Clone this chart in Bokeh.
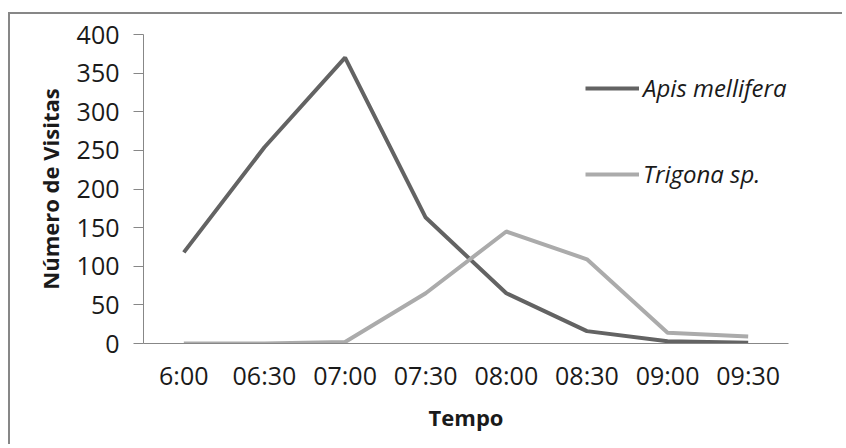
from bokeh.plotting import figure
from bokeh.models import FactorRange, Range1d, Legend, LegendItem, FixedTicker
from bokeh.embed import file_html
from bokeh.resources import INLINE

times = ["6:00", "06:30", "07:00", "07:30", "08:00", "08:30", "09:00", "09:30"]
apis = [118, 254, 370, 163, 65, 16, 3, 1]
trigona = [0, 0, 2, 65, 145, 109, 14, 9]

FONT = "Open Sans"
GRAY = "#878787"

p = figure(
    x_range=FactorRange(*times, range_padding=0),
    y_range=Range1d(0, 400),
    width=834, height=432,
    output_backend="svg", toolbar_location=None,
    min_border_left=133, min_border_right=56, min_border_top=20, min_border_bottom=103,
)
p.styles = {
    "margin-left": "8px", "margin-top": "12px",
    "border-left": f"2px solid {GRAY}", "border-top": f"2px solid {GRAY}",
}
p.outline_line_color = None
p.xgrid.visible = False
p.ygrid.visible = False

r1 = p.line(times, apis, line_color="#636363", line_width=4)
r2 = p.line(times, trigona, line_color="#ababab", line_width=4)

# y axis
p.yaxis.ticker = FixedTicker(ticks=list(range(0, 401, 50)))
p.yaxis.axis_line_color = GRAY
p.yaxis.major_tick_line_color = GRAY
p.yaxis.major_tick_out = 10
p.yaxis.major_tick_in = 0
p.yaxis.minor_tick_line_color = None
p.yaxis.major_label_standoff = 14
p.yaxis.major_label_text_font = FONT
p.yaxis.major_label_text_font_size = "25px"
p.yaxis.major_label_text_color = "#1a1a1a"
p.yaxis.axis_label = "Número de Visitas"
p.yaxis.axis_label_text_font = FONT
p.yaxis.axis_label_text_font_style = "bold"
p.yaxis.axis_label_text_font_size = "22px"
p.yaxis.axis_label_text_color = "#1a1a1a"
p.yaxis.axis_label_standoff = 9

# x axis
p.xaxis.axis_line_color = GRAY
p.xaxis.major_tick_line_color = None
p.xaxis.minor_tick_line_color = None
p.xaxis.major_label_standoff = 8
p.xaxis.major_label_text_font = FONT
p.xaxis.major_label_text_font_size = "25px"
p.xaxis.major_label_text_color = "#1a1a1a"
p.xaxis.axis_label = "Tempo"
p.xaxis.axis_label_text_font = FONT
p.xaxis.axis_label_text_font_style = "bold"
p.xaxis.axis_label_text_font_size = "22px"
p.xaxis.axis_label_text_color = "#1a1a1a"
p.xaxis.axis_label_standoff = 7

legend = Legend(
    items=[LegendItem(label="Apis mellifera", renderers=[r1]),
           LegendItem(label="Trigona sp.", renderers=[r2])],
    location=(442, 153),
    orientation="vertical",
    glyph_width=54, glyph_height=20, label_height=20,
    spacing=53, padding=0, margin=0, label_standoff=4,
    border_line_color=None, background_fill_alpha=0,
    label_text_font=FONT, label_text_font_style="italic",
    label_text_font_size="24px", label_text_color="#1a1a1a",
)
p.add_layout(legend, "center")

open("out.html", "w").write(file_html(p, INLINE))
